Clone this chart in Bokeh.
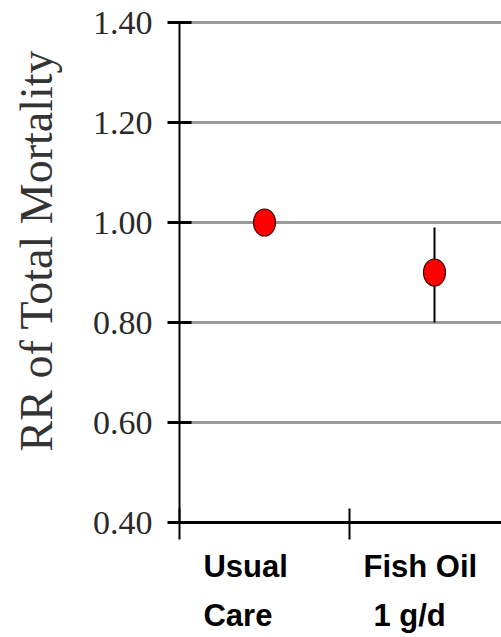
import math
from bokeh.plotting import figure
from bokeh.models import Range1d, FixedTicker, LinearAxis
from bokeh.core.properties import value
from bokeh.embed import file_html
from bokeh.resources import INLINE

# ---- data ----
group_line1 = ["Usual", "Fish Oil"]
group_line2 = ["Care", "1 g/d"]
group_pos = [0.5, 1.5]
rr = [1.00, 0.90]
ci_low = [1.00, 0.80]
ci_high = [1.00, 0.99]
y_ticks = [0.40, 0.60, 0.80, 1.00, 1.20, 1.40]
y_tick_labels = ["0.40", "0.60", "0.80", "1.00", "1.20", "1.40"]
x_bounds = [0, 1, 2]

# ---- canvas geometry (whole canvas is the plotting frame) ----
W, H = 501, 637
AXIS_X_PX, AXIS_Y_PX = 179, 522      # where the two axes cross
PX_PER_X, PX_PER_Y = 170.0, 500.0    # one group width / one RR unit
Y_MIN = 0.40

x_start = -AXIS_X_PX / PX_PER_X
x_end = (W - AXIS_X_PX) / PX_PER_X
y_start = Y_MIN - (H - AXIS_Y_PX) / PX_PER_Y
y_end = Y_MIN + AXIS_Y_PX / PX_PER_Y

p = figure(
    frame_width=W, frame_height=H,
    min_border=0,
    x_range=Range1d(x_start, x_end), y_range=Range1d(y_start, y_end),
    output_backend="svg", toolbar_location=None,
    x_axis_location=None, y_axis_location=None,
)
p.outline_line_color = None
p.background_fill_color = "white"
p.border_fill_color = "white"
p.xgrid.visible = False
p.ygrid.visible = False

# horizontal reference lines
p.segment(x0=[0] * len(y_ticks), y0=y_ticks, x1=[x_end] * len(y_ticks), y1=y_ticks,
          line_color="#9a9a9a", line_width=3)

# y axis: serif tick labels, ticks crossing the axis line
yaxis = LinearAxis(ticker=FixedTicker(ticks=y_ticks), fixed_location=0,
                   bounds=(y_ticks[0], y_ticks[-1]))
yaxis.major_label_overrides = {t: s for t, s in zip(y_ticks, y_tick_labels)}
yaxis.major_label_text_font = "Liberation Serif"
yaxis.major_label_text_font_size = "34px"
yaxis.major_label_text_color = "#2a2a2a"
yaxis.major_label_standoff = 15
yaxis.axis_line_color = "black"
yaxis.axis_line_width = 2
yaxis.major_tick_line_color = "black"
yaxis.major_tick_line_width = 3
yaxis.major_tick_in = 12
yaxis.major_tick_out = 12
yaxis.minor_tick_line_color = None
p.add_layout(yaxis, "left")

# x axis: ticks at group boundaries, group names drawn as text below
xaxis = LinearAxis(ticker=FixedTicker(ticks=x_bounds), fixed_location=Y_MIN,
                   bounds=(x_bounds[0], x_bounds[-1]))
xaxis.major_label_overrides = {b: "" for b in x_bounds}
xaxis.axis_line_color = "black"
xaxis.axis_line_width = 3
xaxis.major_tick_line_color = "black"
xaxis.major_tick_line_width = 2
xaxis.major_tick_in = 14
xaxis.major_tick_out = 17
xaxis.minor_tick_line_color = None
p.add_layout(xaxis, "below")

# confidence interval and point estimates
p.segment(x0=group_pos, y0=ci_low, x1=group_pos, y1=ci_high,
          line_color="black", line_width=2)
p.ellipse(x=group_pos, y=rr, width=22, height=27,
          width_units="screen", height_units="screen",
          fill_color="#ff0000", line_color="#3a0000", line_width=1.2)

# group names, two lines each
line1_x = [0.141, 1.082]
line2_x = [0.141, 1.141]
line1_y = Y_MIN - 44 / PX_PER_Y
line2_y = Y_MIN - 93 / PX_PER_Y
p.text(x=line1_x, y=[line1_y] * 2, text=group_line1,
       text_font=value("Liberation Sans"), text_font_style="bold",
       text_font_size="31px", text_color="black",
       text_align="left", text_baseline="alphabetic")
p.text(x=line2_x, y=[line2_y] * 2, text=group_line2,
       text_font=value("Liberation Sans"), text_font_style="bold",
       text_font_size="31px", text_color="black",
       text_align="left", text_baseline="alphabetic")

# rotated axis title
title_x = (36 - AXIS_X_PX) / PX_PER_X
title_y = Y_MIN + (AXIS_Y_PX - 250) / PX_PER_Y
p.text(x=[title_x], y=[title_y], text=["RR of Total Mortality"],
       angle=math.pi / 2, text_font=value("Liberation Serif"),
       text_font_size="46px", text_color="#333333",
       text_align="center", text_baseline="alphabetic")

open("out.html", "w").write(file_html(p, INLINE))
